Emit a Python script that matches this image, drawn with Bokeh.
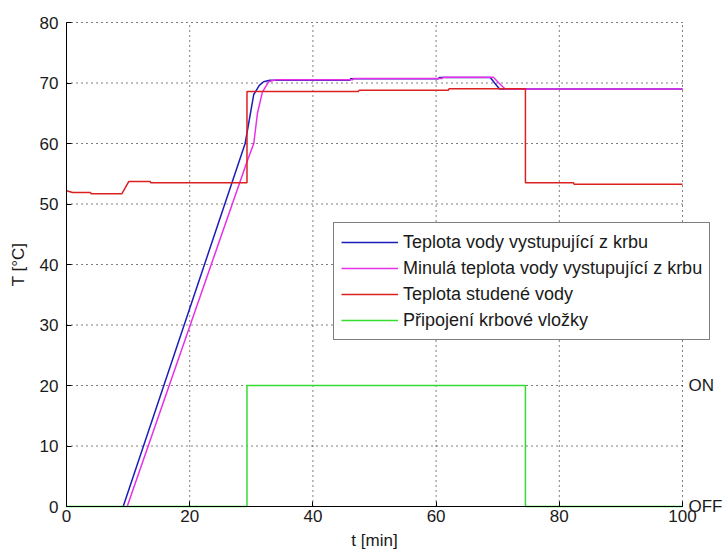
import math
from bokeh.plotting import figure
from bokeh.models import Range1d, FixedTicker, Legend, LegendItem, Label
from bokeh.embed import file_html
from bokeh.resources import INLINE

# --- data ---
blue_t = [9.2, 29.0, 30.4, 31.3, 32.0, 33.0, 46.0, 46.1, 60.4, 60.5, 68.8, 69.5, 70.3, 100]
blue_T = [0, 60.0, 68.1, 69.6, 70.2, 70.45, 70.45, 70.7, 70.7, 70.9, 70.9, 70.0, 69.0, 69.0]

magenta_t = [9.85, 29.3, 30.4, 31.0, 31.8, 32.8, 34.0, 46.5, 46.6, 61.0, 61.1, 69.3, 70.2, 71.2, 100]
magenta_T = [0, 57.0, 60.0, 65.0, 68.5, 70.2, 70.55, 70.55, 70.75, 70.75, 70.95, 70.95, 70.0, 69.0, 69.0]

red_t = [0, 1.0, 3.9, 4.0, 9.0, 10.1, 13.6, 13.7, 29.3, 29.3, 47.4, 47.5, 62.0, 62.1, 74.5, 74.5, 82.3, 82.4, 100]
red_T = [52.2, 51.9, 51.9, 51.7, 51.7, 53.7, 53.7, 53.5, 53.5, 68.6, 68.6, 68.8, 68.8, 69.05, 69.05, 53.5, 53.5, 53.25, 53.25]

green_t = [0, 29.3, 29.3, 74.5, 74.5, 100]
green_v = [0, 0, 20, 20, 0, 0]

x_ticks = [0, 20, 40, 60, 80, 100]
y_ticks = [0, 10, 20, 30, 40, 50, 60, 70, 80]
right_ticks = [0, 20]
right_labels = ["OFF", "ON"]
x_title = "t [min]"
y_title = "T [°C]"

labels = ["Teplota vody vystupující z krbu",
          "Minulá teplota vody vystupující z krbu",
          "Teplota studené vody",
          "Připojení krbové vložky"]
colors = ["#1c1cb8", "#e830e8", "#dd2020", "#30dd30"]

FONT = "Liberation Sans"
FS = "17px"
LFS = "18px"
TXT = "#1a1a1a"

# Layout: the plotting frame covers the whole canvas; the 0..100 x 0..80 data box sits at
# 66..682 x 22..506 px, so axes (fixed at 0), titles, legend and ON/OFF texts can lie around it.
W, H = 724, 556
DATA_L, DATA_R, DATA_T, DATA_B = 66, 682, 22, 506
X_MIN, X_MAX = x_ticks[0], x_ticks[-1]
Y_MIN, Y_MAX = y_ticks[0], y_ticks[-1]
xs = (X_MAX - X_MIN) / (DATA_R - DATA_L)   # data units per px
ys = (Y_MAX - Y_MIN) / (DATA_B - DATA_T)
x_range = Range1d(X_MIN - DATA_L * xs, X_MAX + (W - DATA_R) * xs)
y_range = Range1d(Y_MIN - (H - DATA_B) * ys, Y_MAX + DATA_T * ys)

p = figure(width=W, height=H, output_backend="svg", toolbar_location=None,
           x_range=x_range, y_range=y_range,
           min_border_left=0, min_border_right=0, min_border_top=0, min_border_bottom=0)
p.outline_line_color = None
p.background_fill_color = "white"
p.border_fill_color = "white"

# dotted grid limited to the data box
p.xgrid.visible = False
p.ygrid.visible = False
p.segment(x0=[X_MIN] * len(y_ticks), x1=[X_MAX] * len(y_ticks), y0=y_ticks, y1=y_ticks,
          line_color="black", line_dash="1 4", line_width=1, level="underlay")
p.segment(x0=x_ticks, x1=x_ticks, y0=[Y_MIN] * len(x_ticks), y1=[Y_MAX] * len(x_ticks),
          line_color="black", line_dash="1 4", line_width=1, level="underlay")

r1 = p.line(blue_t, blue_T, line_color=colors[0], line_width=1.5)
r2 = p.line(magenta_t, magenta_T, line_color=colors[1], line_width=1.5)
r3 = p.line(red_t, red_T, line_color=colors[2], line_width=1.5)
r4 = p.line(green_t, green_v, line_color=colors[3], line_width=1.5)

for ax in (p.xaxis[0], p.yaxis[0]):
    ax.axis_line_color = "black"
    ax.major_tick_line_color = "black"
    ax.major_tick_in = 5
    ax.major_tick_out = 0
    ax.minor_tick_line_color = None
    ax.major_label_text_font = FONT
    ax.major_label_text_font_size = FS
    ax.major_label_text_color = TXT

p.xaxis.ticker = FixedTicker(ticks=x_ticks)
p.xaxis.bounds = (X_MIN, X_MAX)
p.xaxis.fixed_location = Y_MIN
p.xaxis.major_label_standoff = 3

p.yaxis.ticker = FixedTicker(ticks=y_ticks)
p.yaxis.bounds = (Y_MIN, Y_MAX)
p.yaxis.fixed_location = X_MIN
p.yaxis.major_label_standoff = 8

# axis titles
p.add_layout(Label(x=(X_MIN + X_MAX) / 2, y=Y_MIN, y_offset=-34, text=x_title,
                   text_align="center", text_baseline="middle", text_font=FONT,
                   text_font_size=FS, text_color=TXT))
p.add_layout(Label(x=X_MIN, y=(Y_MIN + Y_MAX) / 2, x_offset=-48, text=y_title, angle=math.pi / 2,
                   text_align="center", text_baseline="middle", text_font=FONT,
                   text_font_size=FS, text_color=TXT))

# right-hand ON / OFF labels
for yv, txt in zip(right_ticks, right_labels):
    p.add_layout(Label(x=X_MAX, y=yv, x_offset=6, text=txt,
                       text_align="left", text_baseline="middle", text_font=FONT,
                       text_font_size=FS, text_color=TXT))

legend = Legend(items=[LegendItem(label=l, renderers=[r]) for l, r in zip(labels, [r1, r2, r3, r4])],
                location=(333, 216))
legend.border_line_color = "black"
legend.border_line_width = 1
legend.background_fill_color = "white"
legend.background_fill_alpha = 1
legend.label_text_font = FONT
legend.label_text_font_size = LFS
legend.label_text_color = TXT
legend.glyph_width = 57
legend.glyph_height = 24
legend.label_height = 24
legend.spacing = 2
legend.padding = 7
legend.margin = 0
legend.label_standoff = 5
p.add_layout(legend, "center")

open("out.html", "w").write(file_html(p, INLINE))
